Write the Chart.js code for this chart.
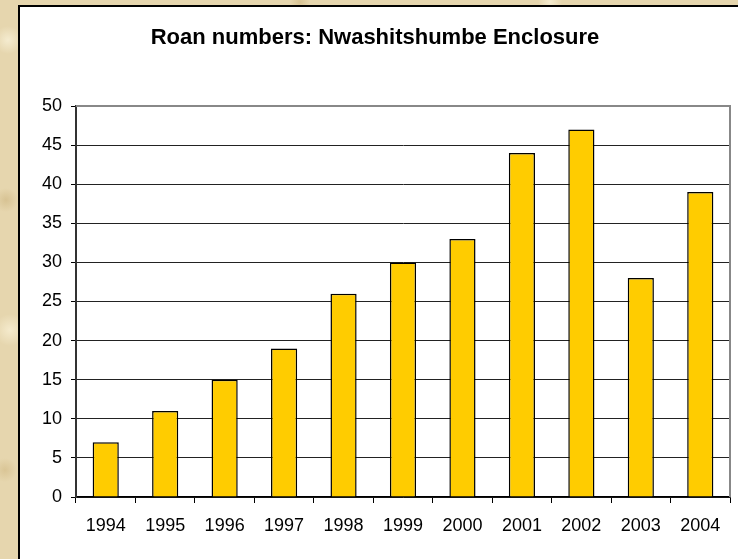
<!DOCTYPE html>
<html>
<head>
<meta charset="utf-8">
<script src="https://cdn.jsdelivr.net/npm/chart.js@4/dist/chart.umd.min.js"></script>
<style>
    html, body {
        margin: 0;
        padding: 0;
        width: 738px;
        height: 559px;
        overflow: hidden;
    }
    body {
        background-color: #e6d6ae;
        background-image:
            radial-gradient(circle at 8px 40px, rgba(255, 250, 230, 0.6), rgba(255, 250, 230, 0) 14px),
            radial-gradient(circle at 6px 200px, rgba(200, 175, 120, 0.5), rgba(200, 175, 120, 0) 12px),
            radial-gradient(circle at 10px 330px, rgba(255, 248, 225, 0.6), rgba(255, 248, 225, 0) 16px),
            radial-gradient(circle at 5px 470px, rgba(205, 180, 125, 0.5), rgba(205, 180, 125, 0) 12px),
            radial-gradient(circle at 300px 2px, rgba(200, 175, 120, 0.5), rgba(200, 175, 120, 0) 10px),
            radial-gradient(circle at 550px 2px, rgba(255, 250, 230, 0.6), rgba(255, 250, 230, 0) 12px);
    }
    #panel {
        position: absolute;
        left: 18px;
        top: 5px;
        width: 718px;
        height: 552px;
        background: #ffffff;
        border-left: 2px solid #000;
        border-top: 2px solid #000;
    }
    #chart {
        display: block;
    }
</style>
</head>
<body>
<div id="panel">
    <canvas id="chart" width="718" height="552"></canvas>
</div>
<script>
    const years = ['1994', '1995', '1996', '1997', '1998', '1999', '2000', '2001', '2002', '2003', '2004'];
    const roanCounts = [7, 11, 15, 19, 26, 30, 33, 44, 47, 28, 39];
    const yTicks = [0, 5, 10, 15, 20, 25, 30, 35, 40, 45, 50];

    const fontFamily = 'Arial, "Liberation Sans", sans-serif';

    // gray frame on the top and right of the plot area
    const plotFrame = {
        id: 'plotFrame',
        afterDatasetsDraw(chart) {
            const { ctx, chartArea } = chart;
            ctx.save();
            ctx.strokeStyle = '#888888';
            ctx.lineWidth = 2;
            ctx.beginPath();
            ctx.moveTo(chartArea.left, chartArea.top);
            ctx.lineTo(chartArea.right, chartArea.top);
            ctx.lineTo(chartArea.right, chartArea.bottom);
            ctx.stroke();
            ctx.restore();
        }
    };

    new Chart(document.getElementById('chart'), {
        type: 'bar',
        data: {
            labels: years,
            datasets: [
                {
                    label: 'Roan',
                    data: roanCounts,
                    backgroundColor: '#ffcc00',
                    borderColor: '#000000',
                    borderWidth: 1.5,
                    categoryPercentage: 1,
                    barPercentage: 0.44
                }
            ]
        },
        options: {
            responsive: false,
            animation: false,
            layout: { padding: { left: 0, right: 8, top: 0, bottom: 0 } },
            plugins: {
                legend: { display: false },
                tooltip: { enabled: false },
                title: {
                    display: true,
                    text: 'Roan numbers: Nwashitshumbe Enclosure',
                    color: '#000000',
                    font: { family: fontFamily, size: 22, weight: 'bold' },
                    padding: { top: 18, bottom: 54.6 }
                }
            },
            scales: {
                x: {
                    afterFit: scale => { scale.height = 62; },
                    grid: {
                        offset: true,
                        drawOnChartArea: false,
                        color: '#000000',
                        tickLength: 6
                    },
                    border: { color: '#000000', width: 1.5 },
                    ticks: {
                        color: '#000000',
                        padding: 12,
                        maxRotation: 0,
                        font: { family: fontFamily, size: 18 }
                    }
                },
                y: {
                    min: 0,
                    max: 50,
                    afterFit: scale => { scale.width = 56; },
                    afterBuildTicks: scale => {
                        scale.ticks = yTicks.map(v => ({ value: v }));
                    },
                    grid: {
                        color: '#222222',
                        tickColor: '#000000',
                        tickLength: 5
                    },
                    border: { color: '#333333', width: 2 },
                    ticks: {
                        color: '#000000',
                        padding: 9,
                        font: { family: fontFamily, size: 18 }
                    }
                }
            }
        },
        plugins: [plotFrame]
    });
</script>
</body>
</html>
